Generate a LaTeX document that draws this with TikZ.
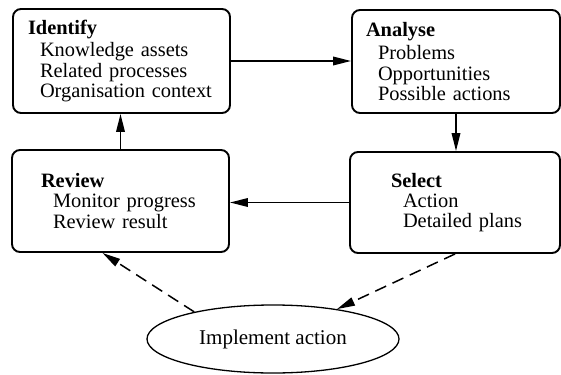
\documentclass[tikz,border=0pt]{standalone}
\usepackage{fontspec}
\setmainfont{Liberation Serif}
\usetikzlibrary{positioning,arrows.meta,calc,shapes.geometric}
\newcommand{\itm}{\hspace*{6pt}}

\begin{document}
\begin{tikzpicture}[
  x=0.5pt, y=-0.5pt,
  font=\fontsize{10.2pt}{10.2pt}\selectfont,
  box/.style={draw, line width=0.95pt, rounded corners=4pt, align=left,
              inner xsep=0pt, inner ysep=0pt},
  oval/.style={draw, ellipse, line width=0.65pt, inner sep=0pt,
               minimum width=126pt, minimum height=34pt,
               font=\fontsize{10.5pt}{11pt}\selectfont},
  arr/.style={-{Triangle[length=9pt,width=4.3pt]}, line width=0.75pt},
  darr/.style={arr, dash pattern=on 6pt off 3.5pt}]

\useasboundingbox (0,0) rectangle (561,374);

% stages of the cycle
\node[box, minimum width=108.5pt, minimum height=52pt, text width=93.5pt]
  (idf) at (121.5,61)
  {\textbf{Identify}\\[1pt]\itm Knowledge assets\\\itm Related processes\\\itm Organisation context};
\node[box, minimum width=104pt, minimum height=51.5pt, text width=90pt]
  (anl) at (456,61.5)
  {\textbf{Analyse}\\[1.5pt]\itm Problems\\\itm Opportunities\\\itm Possible actions};
\node[box, minimum width=105pt, minimum height=50.5pt, text width=64pt]
  (sel) at (455,202.5)
  {\textbf{Select}\\\itm Action\\\mbox{\itm Detailed plans}};
\node[box, minimum width=108.5pt, minimum height=51pt, text width=79.5pt]
  (rev) at (120.5,201)
  {\textbf{Review}\\\itm Monitor progress\\\itm Review result};

% implementation
\node[oval] (imp) at (273,339) {Implement action};

% arrows round the cycle
\draw[arr] (idf.east) -- (idf.east-|anl.west);
\draw[arr] (anl.south) -- (anl.south|-sel.north);
\draw[arr] (sel.west) -- (sel.west-|rev.east);
\draw[arr] (rev.north) -- (rev.north|-idf.south);

% implementation links
\draw[darr] (sel.south) -- (imp);
\draw[darr] (imp.161) -- ([xshift=-9pt]rev.south);
\end{tikzpicture}
\end{document}
